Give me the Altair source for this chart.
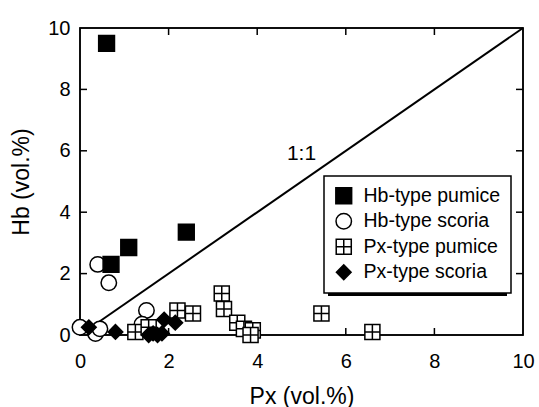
import altair as alt
import pandas as pd

# Hornblende vs. pyroxene phenocryst content (vol.%)
hb_pumice_px = [0.6, 0.7, 1.1, 2.4]
hb_pumice_hb = [9.5, 2.3, 2.85, 3.35]

hb_scoria_px = [0.0, 0.35, 0.45, 0.4, 0.65, 1.5, 1.4]
hb_scoria_hb = [0.25, 0.05, 0.2, 2.3, 1.7, 0.8, 0.35]

px_pumice_px = [1.25, 1.55, 2.2, 2.55, 3.2, 3.25, 3.55, 3.7, 3.9, 3.85, 5.45, 6.6]
px_pumice_hb = [0.1, 0.25, 0.8, 0.7, 1.35, 0.85, 0.4, 0.2, 0.15, 0.0, 0.7, 0.1]

px_scoria_px = [0.2, 0.8, 1.55, 1.65, 1.75, 1.85, 1.9, 2.15]
px_scoria_hb = [0.25, 0.1, 0.0, 0.05, 0.0, 0.05, 0.5, 0.4]

series = ["Hb-type pumice", "Hb-type scoria", "Px-type pumice", "Px-type scoria"]
shapes = ["square", "circle", "M-1,-1H1V1H-1Z M0,-1V1 M-1,0H1", "diamond"]
fills = ["black", "white", "white", "black"]
strokes = ["black", "black", "black", "black"]
sizes = [250, 215, 215, 310]

tick_values = [2, 4, 6, 8]
one_to_one = [0, 10]

W, H = 443, 307
FONT = "Liberation Sans"

# drawing order: scoria circles at the back, diamonds on top
rows = []
for name, xs, ys in [
    ("Hb-type scoria", hb_scoria_px, hb_scoria_hb),
    ("Hb-type pumice", hb_pumice_px, hb_pumice_hb),
    ("Px-type pumice", px_pumice_px, px_pumice_hb),
    ("Px-type scoria", px_scoria_px, px_scoria_hb),
]:
    for x, y in zip(xs, ys):
        rows.append({"Px": x, "Hb": y, "type": name})
points = pd.DataFrame(rows)

xscale = alt.Scale(domain=[0, 10], nice=False)
yscale = alt.Scale(domain=[0, 10], nice=False)

x_axis = alt.Axis(values=[0, 2, 4, 6, 8, 10], ticks=False, domain=False, grid=False,
                  labelFlush=False, labelFontSize=20, labelPadding=16, title="Px (vol.%)",
                  titleFontSize=23, titleFontWeight="normal", titlePadding=14)
y_axis = alt.Axis(values=[0, 2, 4, 6, 8, 10], ticks=False, domain=False, grid=False,
                  labelFlush=False, labelFontSize=20, labelPadding=10, title="Hb (vol.%)",
                  titleFontSize=23, titleFontWeight="normal", titlePadding=14)


def xq(field):
    return alt.X(field, type="quantitative", scale=xscale, axis=x_axis)


def yq(field):
    return alt.Y(field, type="quantitative", scale=yscale, axis=y_axis)


diag_df = pd.DataFrame({"Px": one_to_one, "Hb": one_to_one})
diag = alt.Chart(diag_df).mark_line(color="black", strokeWidth=2).encode(
    x=xq("Px"), y=yq("Hb"))

label = alt.Chart(pd.DataFrame({"Px": [5.0], "Hb": [5.9], "t": ["1:1"]})).mark_text(
    fontSize=21, font=FONT, color="black"
).encode(x=xq("Px"), y=yq("Hb"), text="t:N")

# plot frame
frame = alt.Chart(pd.DataFrame({"a": [0]})).mark_rect(
    fillOpacity=0, stroke="black", strokeWidth=1.5
).encode(x=alt.value(0), x2=alt.value(W), y=alt.value(0), y2=alt.value(H))

# drop shadow behind the legend box
shadow = alt.Chart(pd.DataFrame({"a": [0]})).mark_rect(color="black").encode(
    x=alt.value(248), x2=alt.value(427), y=alt.value(152), y2=alt.value(268)
)

legend = alt.Legend(title=None, orient="none", legendX=244, legendY=148,
                    fillColor="white", strokeColor="black",
                    padding=10, labelFontSize=19.5, labelFont=FONT, rowPadding=3.5,
                    labelOffset=10, symbolStrokeWidth=1.5, symbolStrokeColor="black")

scatter = alt.Chart(points).mark_point(filled=False, strokeWidth=1.5, opacity=1).encode(
    x=xq("Px"),
    y=yq("Hb"),
    shape=alt.Shape("type:N", scale=alt.Scale(domain=series, range=shapes), legend=legend),
    fill=alt.Fill("type:N", scale=alt.Scale(domain=series, range=fills), legend=legend),
    stroke=alt.Stroke("type:N", scale=alt.Scale(domain=series, range=strokes), legend=legend),
    size=alt.Size("type:N", scale=alt.Scale(domain=series, range=sizes), legend=legend),
)

ticks_df = pd.DataFrame({"v": tick_values})
tick_left = alt.Chart(ticks_df).mark_rule(color="black", strokeWidth=1.5).encode(
    y=yq("v"), x=alt.value(0), x2=alt.value(7))
tick_right = alt.Chart(ticks_df).mark_rule(color="black", strokeWidth=1.5).encode(
    y=yq("v"), x=alt.value(W - 7), x2=alt.value(W))
tick_bottom = alt.Chart(ticks_df).mark_rule(color="black", strokeWidth=1.5).encode(
    x=xq("v"), y=alt.value(H), y2=alt.value(H - 7))
tick_top = alt.Chart(ticks_df).mark_rule(color="black", strokeWidth=1.5).encode(
    x=xq("v"), y=alt.value(0), y2=alt.value(7))

chart = alt.layer(
    frame, diag, label, tick_left, tick_right, tick_bottom, tick_top, shadow, scatter
).properties(
    width=W, height=H,
    background="white",
    autosize=alt.AutoSizeParams(type="none"),
    padding={"left": 80, "top": 28, "right": 16, "bottom": 72},
).configure_view(
    stroke="black", strokeWidth=1.5
).configure_axis(
    labelFont=FONT, titleFont=FONT, labelColor="black", titleColor="black"
).configure_legend(
    strokeWidth=1.5
)

chart.save("out.html", embed_options={"renderer": "svg", "actions": False})
